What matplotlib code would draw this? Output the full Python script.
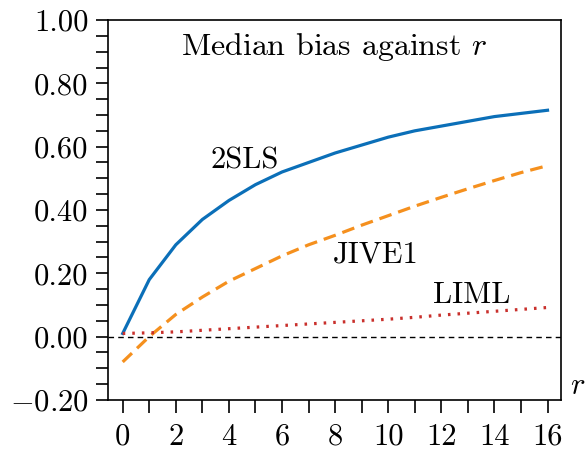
import matplotlib
matplotlib.use("Agg")
import matplotlib.pyplot as plt
from matplotlib.ticker import MultipleLocator, FuncFormatter

plt.rcParams['font.family'] = ['cmr10', 'DejaVu Serif']
plt.rcParams['mathtext.fontset'] = 'cm'
plt.rcParams['axes.unicode_minus'] = False

r = list(range(17))
tsls = [0.01, 0.18, 0.29, 0.37, 0.43, 0.48, 0.52, 0.55, 0.58, 0.605, 0.63, 0.65, 0.665, 0.68, 0.695, 0.705, 0.715]
jive1 = [-0.08, 0.0, 0.07, 0.125, 0.175, 0.215, 0.255, 0.29, 0.32, 0.352, 0.382, 0.412, 0.44, 0.467, 0.493, 0.518, 0.54]
liml = [0.01, 0.012, 0.015, 0.02, 0.025, 0.03, 0.035, 0.04, 0.045, 0.05, 0.055, 0.061, 0.068, 0.074, 0.08, 0.086, 0.092]

fig = plt.figure(figsize=(5.86, 4.55), dpi=100)
ax = fig.add_axes([0.184, 0.121, 0.773, 0.835])
ax.axhline(0, color='black', lw=1, ls=(0, (4, 3)))
ax.plot(r, tsls, color='#0b6fb8', lw=2.3)
ax.plot(r, jive1, color='#f5901e', lw=2.3, ls=(0, (4, 2.2)))
ax.plot(r, liml, color='#c9302c', lw=2.3, ls=(0, (0.8, 2.2)))
ax.set_xlim(-0.56, 16.5)
ax.set_ylim(-0.2, 1.0)
ax.xaxis.set_major_locator(MultipleLocator(2))
ax.xaxis.set_minor_locator(MultipleLocator(1))
ax.yaxis.set_major_locator(MultipleLocator(0.2))
ax.yaxis.set_minor_locator(MultipleLocator(0.05))
ax.yaxis.set_major_formatter(FuncFormatter(lambda v, p: r'$%.2f$' % v if v < -1e-9 else '%.2f' % abs(v)))
ax.tick_params(which='both', direction='out', length=9, width=1.2, labelsize=22, pad=5)
ax.tick_params(axis='x', pad=8)
ax.tick_params(axis='both', which='both', top=False, right=False)
for s in ax.spines.values():
    s.set_linewidth(1.2)
ax.text(0.5, 0.93, r'Median bias against $r$', transform=ax.transAxes, ha='center', va='center', fontsize=23)
ax.text(3.3, 0.53, '2SLS', fontsize=22)
ax.text(7.9, 0.235, 'JIVE1', fontsize=22)
ax.text(11.7, 0.105, 'LIML', fontsize=22)
ax.text(1.02, -0.2, r'$r$', transform=ax.get_yaxis_transform(), fontsize=22, ha='left', va='bottom')
fig.savefig('out.png', dpi=100)
